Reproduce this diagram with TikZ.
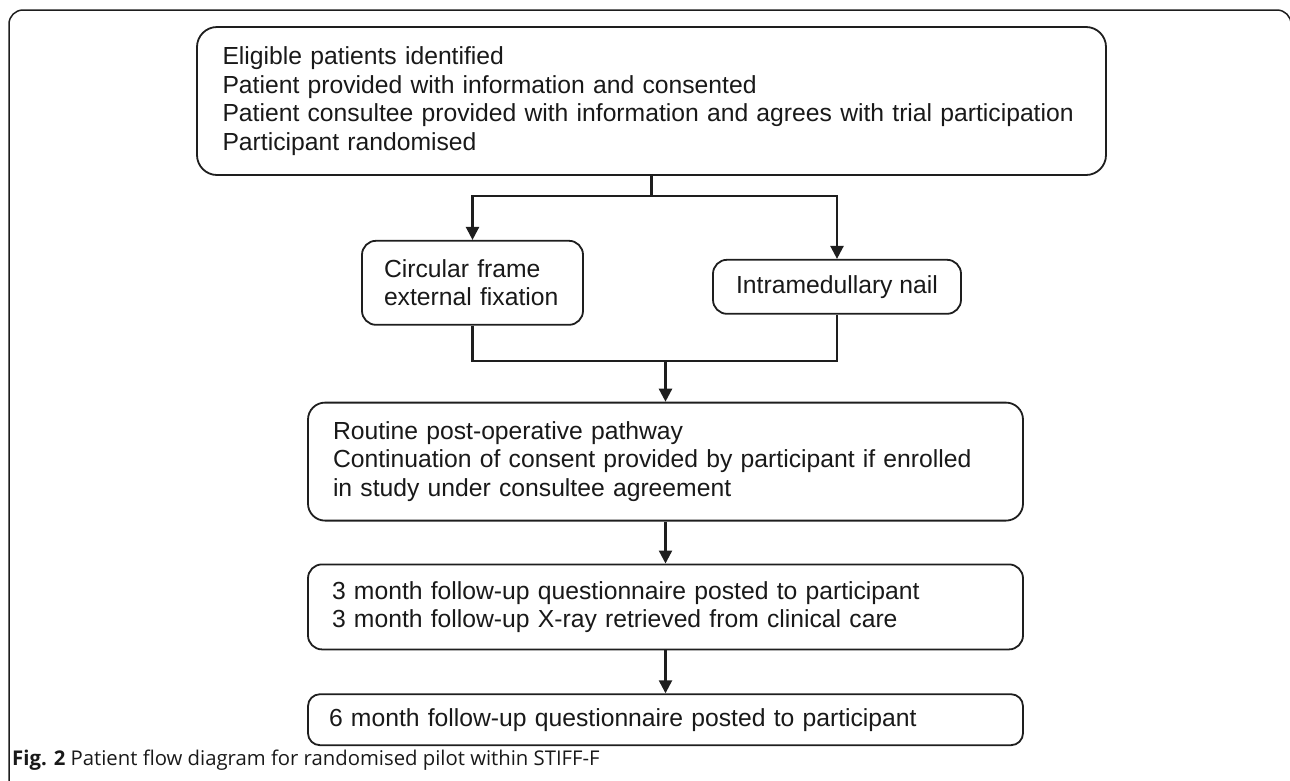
\documentclass[tikz,border=0pt]{standalone}
\usepackage{fontspec}
\setmainfont{Liberation Sans}
\newfontfamily\capfont{Open Sans}
\usepackage{tikz}
\usetikzlibrary{arrows.meta,positioning,calc}
\definecolor{lc}{RGB}{30,30,30}
\definecolor{tc}{RGB}{25,25,25}
\newcommand{\boxfont}{\fontsize{24.7}{28.5}\selectfont}
\tikzset{
  fb/.style={rectangle,rounded corners=#1,draw=lc,line width=1.8pt,fill=white,
    text=tc,align=left,inner sep=0pt,font=\boxfont},
  fb/.default=14pt,
  ln/.style={line width=2.4pt,color=lc},
  arr/.style={-{Triangle[length=13pt,width=13pt]},line width=2.4pt,color=lc},
}

\begin{document}
\begin{tikzpicture}[x=1pt,y=1pt]
    \useasboundingbox (0,0) rectangle (1290,-780);
    % outer frame, open at the bottom
    \draw[line width=1.5pt,color=lc,rounded corners=14pt]
      (9,-800) -- (9,-10) -- (1291,-10) -- (1291,-800);

    % top box
    \node[fb=20pt,minimum width=909pt,minimum height=148pt,text width=858pt]
      (elig) at (651.5,-101)
      {Eligible patients identified\\
       Patient provided with information and consented\\
       Patient consultee provided with information and agrees with trial participation\\
       Participant randomised};

    % two arms
    \node[fb,minimum width=221pt,minimum height=84pt,text width=177pt,
      below=64pt of elig.south,anchor=north,xshift=-179pt] (circ)
      {Circular frame\\external fixation};
    \node[fb,minimum width=248pt,minimum height=54pt,align=center,
      below=83pt of elig.south,anchor=north,xshift=185.5pt] (nail)
      {Intramedullary nail};

    % follow-up stack
    \node[fb=17pt,minimum width=715pt,minimum height=118pt,text width=665pt,
      below=76pt of circ.south,anchor=north,xshift=193pt] (route)
      {Routine post-operative pathway\\
       Continuation of consent provided by participant if enrolled\\
       in study under consultee agreement};
    \node[fb,minimum width=715pt,minimum height=85pt,text width=667pt,
      below=42pt of route] (three)
      {3 month follow-up questionnaire posted to participant\\
       3 month follow-up X-ray retrieved from clinical care};
    \node[fb=12pt,minimum width=715pt,minimum height=51pt,text width=673pt,
      below=43pt of three] (six)
      {6 month follow-up questionnaire posted to participant};

    \draw[arr] (elig.south)--++(0,-20)-|(circ.north);
    \draw[arr] (elig.south)--++(0,-20)-|(nail.north);
    \draw[ln] (circ.south)--++(0,-35) coordinate (mj)-|(nail.south);
    \draw[arr] (route.north |- mj)--(route.north);
    \draw[arr] (route)--(three);
    \draw[arr] (three)--(six);

    % caption
    \node[anchor=base west,inner sep=0pt,font=\capfont\fontsize{20.3}{24}\selectfont,text=tc]
      (cap) at (12,-765) {\textbf{Fig. 2} Patient flow diagram for randomised pilot within STIFF-F};
  \end{tikzpicture}
\end{document}
